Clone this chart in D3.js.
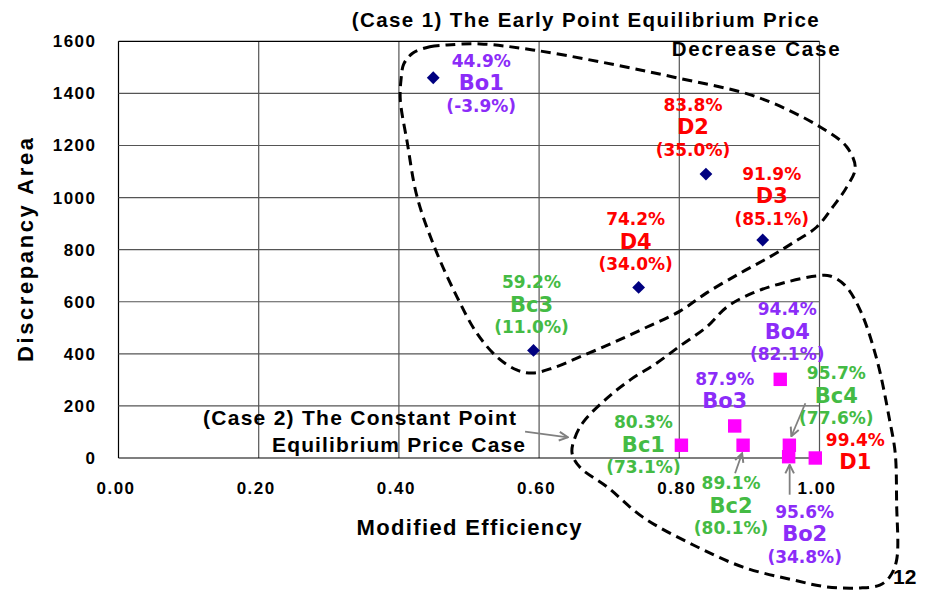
<!DOCTYPE html>
<html>
<head>
<meta charset="utf-8">
<script src="https://cdn.jsdelivr.net/npm/d3@7"></script>
<style>
  body { margin: 0; background: #fff; }
  svg text { font-family: "Liberation Sans", Arial, sans-serif; font-weight: bold; }
  svg g.lbl text { font-family: "DejaVu Sans", Verdana, sans-serif; }
</style>
</head>
<body>
<div id="chart"></div>
<script>
// values
const pointNames = ["Bo1", "D2", "D3", "D4", "Bc3", "Bo4", "Bo3", "Bc1", "Bc2", "Bc4", "Bo2", "D1"];
const efficiency = [0.449, 0.838, 0.919, 0.742, 0.592, 0.944, 0.879, 0.803, 0.891, 0.957, 0.956, 0.994];
const discrepancy = [1460, 1090, 837, 655, 413, 302, 123, 49, 49, 49, 5, 0];
const secondRate = ["-3.9%", "35.0%", "85.1%", "34.0%", "11.0%", "82.1%", null, "73.1%", "80.1%", "77.6%", "34.8%", null];
const caseGroup = [1, 1, 1, 1, 1, 2, 2, 2, 2, 2, 2, 2];

const xTicks = [0, 0.2, 0.4, 0.6, 0.8, 1.0];
const yTicks = [0, 200, 400, 600, 800, 1000, 1200, 1400, 1600];

// outlines of the two cases, in data units (efficiency, area)
const case1Outline = [[0.420, 1555], [0.444, 1579], [0.469, 1586], [0.516, 1590], [0.591, 1567], [0.687, 1521],
  [0.791, 1463], [0.911, 1386], [1.001, 1271], [1.039, 1194], [1.051, 1114], [1.039, 1041], [1.019, 964],
  [0.996, 887], [0.962, 826], [0.929, 772], [0.887, 710], [0.839, 634], [0.801, 564], [0.754, 503],
  [0.705, 442], [0.658, 388], [0.620, 346], [0.591, 326], [0.568, 338], [0.540, 388], [0.511, 480],
  [0.483, 618], [0.453, 795], [0.426, 1002], [0.412, 1210], [0.402, 1375], [0.403, 1452], [0.407, 1513]];
const case2Outline = [[0.647, 19], [0.651, 77], [0.663, 138], [0.697, 230], [0.730, 300], [0.768, 365],
  [0.801, 430], [0.839, 503], [0.868, 580], [0.905, 634], [0.948, 672], [0.996, 699], [1.015, 699],
  [1.036, 664], [1.058, 568], [1.082, 376], [1.100, 146], [1.108, 19], [1.110, -173], [1.110, -392],
  [1.100, -457], [1.086, -488], [1.058, -499], [1.011, -495], [0.962, -468], [0.891, -419], [0.820, -334],
  [0.748, -227], [0.697, -111], [0.658, -35]];

// label placement (pixels, relative to the point)
const labelShift = {
  Bo1: [48, 5], D2: [-13, -47], D3: [9, -44], D4: [-3, -46], Bc3: [-2, -46], Bo4: [7, -48],
  Bo3: [-10, -25], Bc1: [-38, -1], Bc2: [-12, 60], Bc4: [47, -50], Bo2: [16, 77], D1: [40, 4]
};
// pointer arrows: [tail dx, tail dy, head dx, head dy]
const pointers = { Bc2: [-8, 28, -1, 8], Bc4: [16, -42, 2, -9], Bo2: [1, 38, 1, 8] };

const colorOf = name => name.startsWith("Bo") ? "#8B2CF8" : name.startsWith("Bc") ? "#44BB44" : "#FF0000";

const w = 941, h = 590;
const svg = d3.select("#chart").append("svg").attr("width", w).attr("height", h);

const x = d3.scaleLinear().domain([0, 1]).range([118.5, 819.5]);
const y = d3.scaleLinear().domain([0, 1600]).range([458, 41.3]);

const data = pointNames.map((n, i) => ({
  name: n, eff: efficiency[i], area: discrepancy[i], rate: secondRate[i], grp: caseGroup[i]
}));

// grid
svg.append("g").selectAll("line").data(xTicks).enter().append("line")
  .attr("x1", d => x(d)).attr("x2", d => x(d))
  .attr("y1", y(0)).attr("y2", y(1600))
  .attr("stroke", d => d === 0 ? "#000" : "#555").attr("stroke-width", 1.2);
svg.append("g").selectAll("line").data(yTicks).enter().append("line")
  .attr("x1", x(0)).attr("x2", x(1))
  .attr("y1", d => y(d)).attr("y2", d => y(d))
  .attr("stroke", d => d === 0 || d === 1600 ? "#000" : "#555").attr("stroke-width", 1.2);

// axes (labels only)
const yAxis = d3.axisLeft(y).tickValues(yTicks).tickSize(0).tickPadding(22).tickFormat(d3.format("d"));
const xAxis = d3.axisBottom(x).tickValues(xTicks).tickSize(0).tickPadding(24).tickFormat(d3.format(".2f"));
const gy = svg.append("g").attr("transform", `translate(${x(0)},0)`).call(yAxis);
const gx = svg.append("g").attr("transform", `translate(-3,${y(0)})`).call(xAxis);
[gx, gy].forEach(g => {
  g.select(".domain").remove();
  g.selectAll("text").attr("fill", "#000").style("font-size", "17px")
    .style("font-family", "'Liberation Sans', Arial, sans-serif").style("font-weight", "bold")
    .style("letter-spacing", "1.5px");
});

svg.append("text")
  .attr("x", 469).attr("y", 527).attr("dy", "0.35em")
  .attr("text-anchor", "middle").style("font-size", "22px")
  .attr("textLength", 225).attr("lengthAdjust", "spacing")
  .text("Modified Efficiency");
svg.append("text")
  .attr("transform", "translate(25,250) rotate(-90)").attr("dy", "0.35em")
  .attr("text-anchor", "middle").style("font-size", "22px")
  .attr("textLength", 224).attr("lengthAdjust", "spacing")
  .text("Discrepancy Area");

// case outlines
const outline = d3.line().x(d => x(d[0])).y(d => y(d[1])).curve(d3.curveCatmullRomClosed.alpha(0.5));
[case1Outline, case2Outline].forEach(o => {
  svg.append("path").attr("d", outline(o))
    .attr("fill", "none").attr("stroke", "#000").attr("stroke-width", 3)
    .attr("stroke-dasharray", "10,6");
});

// arrow marker
svg.append("defs").append("marker")
  .attr("id", "arr").attr("viewBox", "0 0 10 10").attr("refX", 9).attr("refY", 5)
  .attr("markerWidth", 6).attr("markerHeight", 6).attr("orient", "auto")
  .append("path").attr("d", "M1,1 L9,5 L1,9").attr("fill", "none")
  .attr("stroke", "#808080").attr("stroke-width", 1.8);

// annotation texts
svg.append("text").attr("x", 351.7).attr("y", 20).attr("dy", "0.35em")
  .style("font-size", "20.5px").attr("textLength", 467).attr("lengthAdjust", "spacing")
  .text("(Case 1) The Early Point Equilibrium Price");
svg.append("text").attr("x", 671.7).attr("y", 49).attr("dy", "0.35em")
  .style("font-size", "20.5px").attr("textLength", 168).attr("lengthAdjust", "spacing")
  .text("Decrease Case");
svg.append("text").attr("x", 203).attr("y", 418).attr("dy", "0.35em")
  .style("font-size", "21px").attr("textLength", 313).attr("lengthAdjust", "spacing")
  .text("(Case 2) The Constant Point");
svg.append("text").attr("x", 272).attr("y", 445).attr("dy", "0.35em")
  .style("font-size", "21px").attr("textLength", 253).attr("lengthAdjust", "spacing")
  .text("Equilibrium Price Case");
svg.append("line")
  .attr("x1", x(0.580)).attr("y1", y(101)).attr("x2", x(0.641)).attr("y2", y(79.5))
  .attr("stroke", "#808080").attr("stroke-width", 1.8).attr("marker-end", "url(#arr)");
svg.append("text").attr("x", 893).attr("y", 577).attr("dy", "0.35em")
  .style("font-size", "21px").text("12");

// pointer arrows
data.filter(d => pointers[d.name]).forEach(d => {
  const p = pointers[d.name];
  svg.append("line")
    .attr("x1", x(d.eff) + p[0]).attr("y1", y(d.area) + p[1])
    .attr("x2", x(d.eff) + p[2]).attr("y2", y(d.area) + p[3])
    .attr("stroke", "#808080").attr("stroke-width", 1.8).attr("marker-end", "url(#arr)");
});

// points
svg.append("g").selectAll("path").data(data).enter().append("path")
  .attr("d", d => d.grp === 1 ? d3.symbol(d3.symbolSquare, 82)() : d3.symbol(d3.symbolSquare, 180)())
  .attr("transform", d => `translate(${x(d.eff)},${y(d.area)})` + (d.grp === 1 ? " rotate(45)" : ""))
  .attr("fill", d => d.grp === 1 ? "#000080" : "#FF00FF");

// labels
const fmt = d3.format(".1%");
const lab = svg.append("g").selectAll("g").data(data).enter().append("g")
  .attr("class", "lbl")
  .attr("transform", d => `translate(${x(d.eff) + labelShift[d.name][0]},${y(d.area) + labelShift[d.name][1]})`)
  .attr("fill", d => colorOf(d.name))
  .attr("text-anchor", "middle");
lab.append("text").attr("y", -22).attr("dy", "0.35em").style("font-size", "17px")
  .text(d => fmt(d.eff));
lab.append("text").attr("y", 0).attr("dy", "0.35em").style("font-size", "21px")
  .text(d => d.name);
lab.filter(d => d.rate).append("text").attr("y", 23).attr("dy", "0.35em").style("font-size", "17px")
  .text(d => `(${d.rate})`);
</script>
</body>
</html>
